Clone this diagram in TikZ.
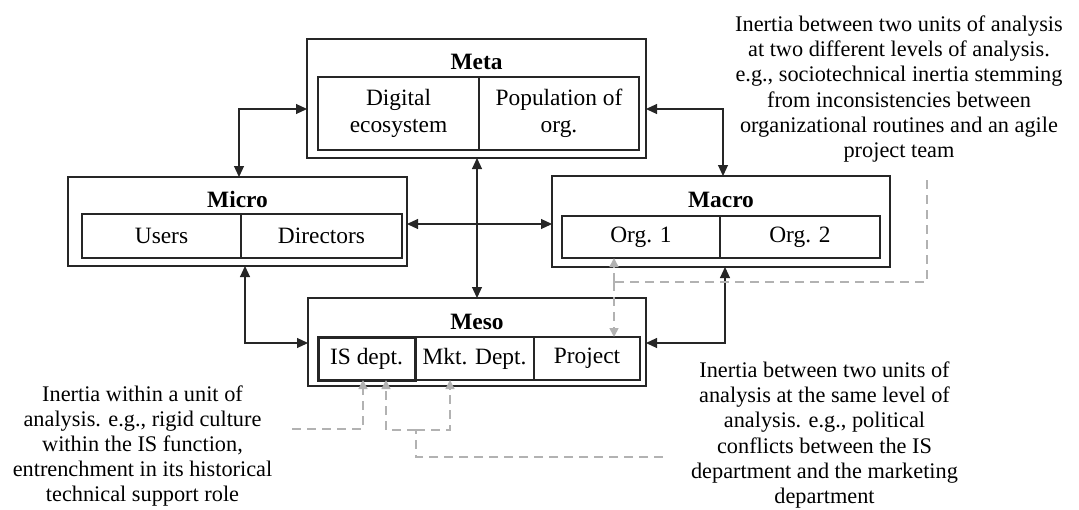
\documentclass[tikz,border=0pt]{standalone}
\usepackage{fontspec}
\setmainfont{Liberation Serif}
\usetikzlibrary{arrows.meta}

\tikzset{
  level/.style={draw=black!85, line width=1.1pt, inner sep=0pt, outer sep=0pt, fill=white},
  cell/.style={draw=black!85, line width=1.1pt, inner sep=0pt, outer sep=0pt, align=center,
    font=\fontsize{23.4}{27}\selectfont},
  title/.style={anchor=base, inner sep=0pt, font=\fontsize{23.4}{27}\selectfont\bfseries},
  note/.style={align=center, inner sep=0pt, font=\fontsize{22.3}{25.2}\selectfont},
  link/.style={draw=black!85, line width=1.1pt,
    {Triangle[length=11pt,width=10pt]}-{Triangle[length=11pt,width=10pt]}},
  gdash/.style={draw=black!30, line width=1.6pt, dash pattern=on 9pt off 6pt},
  gtip/.style={-{Triangle[length=9pt,width=9pt]}},
}

\begin{document}
\begin{tikzpicture}[x=1pt,y=-1pt]
\useasboundingbox (0,0) rectangle (1079,509);

% level frames
\node[level, minimum width=339pt, minimum height=119pt] (meta)  at (476.5,98.5) {};
\node[level, minimum width=339pt, minimum height=89pt]  (micro) at (237.5,221.5) {};
\node[level, minimum width=338pt, minimum height=91pt]  (macro) at (721,221.5) {};
\node[level, minimum width=338pt, minimum height=88pt]  (meso)  at (477,342) {};

% titles
\node[title] (metaT)  at (476.5,69) {Meta};
\node[title] (microT) at (237.5,207) {Micro};
\node[title] (macroT) at (721,207) {Macro};
\node[title] (mesoT)  at (477,329) {Meso};

% units of analysis
\node[cell, minimum width=161pt, minimum height=73pt] (digital) at (398.5,113.5) {Digital\\ecosystem};
\node[cell, minimum width=160pt, minimum height=73pt] (popul)   at (559,113.5) {Population of\\org.};
\node[cell, minimum width=159pt, minimum height=44pt] (users)   at (161.5,236) {Users};
\node[cell, minimum width=161pt, minimum height=44pt] (direct)  at (321.5,236) {Directors};
\node[cell, minimum width=158pt, minimum height=42pt] (org1)    at (641,237) {Org. 1};
\node[cell, minimum width=160pt, minimum height=42pt] (org2)    at (800,237) {Org. 2};
\node[cell, minimum width=119pt, minimum height=43pt] (mkt)     at (474.5,358.5) {Mkt. Dept.};
\node[cell, minimum width=106pt, minimum height=43pt] (project) at (587,358.5) {Project};
\node[cell, line width=3pt, minimum width=97pt, minimum height=43pt] (isdept) at (366.5,358.5) {IS dept.};

% relations between levels
\draw[link] ([yshift=-10.5pt]meta.west) -| ([xshift=1.5pt]micro.north);
\draw[link] ([yshift=-10.5pt]meta.east) -| ([xshift=2pt]macro.north);
\draw[link] (meso.north |- meta.south) -- (meso.north);
\draw[link] ([yshift=-2.5pt]micro.east) -- ([yshift=-2.5pt]macro.west);
\draw[link] ([xshift=7.5pt]micro.south) |- ([yshift=-1pt]meso.west);
\draw[link] ([xshift=4pt]macro.south) |- ([yshift=-1pt]meso.east);

% annotations
\node[note] (across) at (899,89) {Inertia between two units of analysis\\at two different levels of analysis.\\e.g., sociotechnical inertia stemming\\from inconsistencies between\\organizational routines and an agile\\project team};
\node[note] (within) at (142.5,446) {Inertia within a unit of\\analysis. e.g., rigid culture\\within the IS function,\\entrenchment in its historical\\technical support role};
\node[note] (same) at (824.5,435) {Inertia between two units of\\analysis at the same level of\\analysis. e.g., political\\conflicts between the IS\\department and the marketing\\department};

% dashed pointers
\coordinate (acrossEnd) at (927,180);
\coordinate (acrossJ)   at (614,282);
\coordinate (withinEnd) at (292,429);
\coordinate (sameEnd)   at (663,457);
\coordinate (sameJ)     at (416,430);

\draw[gdash] (acrossEnd) |- (acrossJ);
\draw[gdash, gtip] (acrossJ) -- (acrossJ |- org1.south);
\draw[gdash, gtip] (acrossJ) -- (acrossJ |- project.north);

\draw[gdash, gtip] (withinEnd) -| ([xshift=-3.5pt]isdept.south);

\draw[gdash] (sameEnd) -| (sameJ);
\draw[gdash, gtip] (sameJ) -| ([xshift=19.5pt]isdept.south);
\draw[gdash, gtip] (sameJ) -| ([xshift=-24.5pt]mkt.south);
\end{tikzpicture}
\end{document}
